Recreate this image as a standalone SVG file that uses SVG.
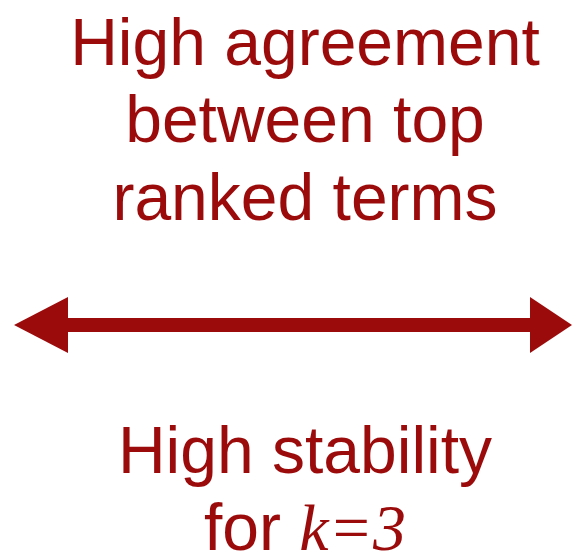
<svg xmlns="http://www.w3.org/2000/svg" width="572" height="556" viewBox="0 0 572 556">
<style>
.t{font-family:"Liberation Sans",Arial,sans-serif;font-size:66px;fill:#9b0b0b;text-anchor:middle}
.m{font-family:"Liberation Serif","Times New Roman",serif;font-style:italic}
</style>
<rect width="572" height="556" fill="#fff"/>
<g id="top-label">
<text class="t" x="305" y="65">High agreement</text>
<text class="t" x="305" y="142">between top</text>
<text class="t" x="305" y="220">ranked terms</text>
</g>
<g id="connectors">
<rect x="60" y="318" width="474" height="14" fill="#9b0b0b"/>
<polygon points="14,325 68,297 68,353" fill="#9b0b0b"/>
<polygon points="572,325 530,297 530,353" fill="#9b0b0b"/>
</g>
<g id="bottom-label">
<text class="t" x="305" y="473">High stability</text>
<text class="t" x="305" y="550">for <tspan class="m">k</tspan><tspan class="m" font-style="normal">=</tspan><tspan class="m">3</tspan></text>
</g>
</svg>
